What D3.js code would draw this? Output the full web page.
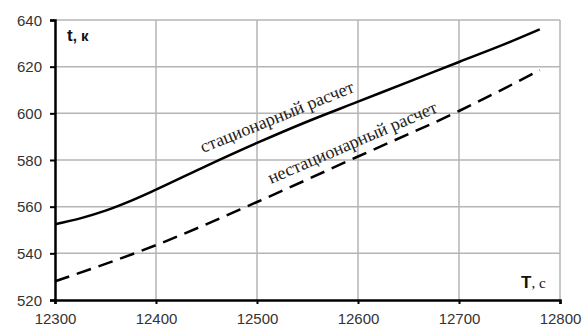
<!DOCTYPE html>
<html>
<head>
<meta charset="utf-8">
<script src="https://cdn.jsdelivr.net/npm/d3@7"></script>
<style>
  body { margin:0; background:#fff; }
  .tick text { font-family: "Liberation Sans", Arial, sans-serif; font-size:15px; fill:#333; }
</style>
</head>
<body>
<svg id="chart" width="586" height="329"></svg>
<script>
// time, s
var timeStat   = [12300, 12325, 12350, 12375, 12400, 12450, 12500, 12550, 12600, 12650, 12700, 12750, 12780];
var tempStat   = [552.5, 555, 558.3, 562.5, 567.3, 577.5, 587.3, 596.5, 605, 613.5, 622, 630.5, 636];
var timeUnst   = [12300, 12400, 12500, 12600, 12700, 12780];
var tempUnst   = [528, 543.5, 562, 581.5, 601, 618.5];
var xTicks     = [12300, 12400, 12500, 12600, 12700, 12800];
var yTicks     = [520, 540, 560, 580, 600, 620, 640];

var svg = d3.select("#chart");
var x = d3.scaleLinear().domain([12300, 12800]).range([55, 560]);
var y = d3.scaleLinear().domain([520, 640]).range([300, 20]);

// grid
svg.append("g").selectAll("line.v").data(xTicks.slice(1)).enter().append("line")
  .attr("x1", d => x(d)).attr("x2", d => x(d)).attr("y1", y(640)).attr("y2", y(520))
  .attr("stroke", "#b5b5b5").attr("stroke-width", 1.5);
svg.append("g").selectAll("line.h").data(yTicks.slice(1)).enter().append("line")
  .attr("x1", x(12300)).attr("x2", x(12800)).attr("y1", d => y(d)).attr("y2", d => y(d))
  .attr("stroke", "#b5b5b5").attr("stroke-width", 1.5);

// axes
var gx = svg.append("g").attr("transform", "translate(0," + y(520) + ")")
  .call(d3.axisBottom(x).tickValues(xTicks).tickSize(4).tickPadding(6).tickFormat(d3.format("d")));
var gy = svg.append("g").attr("transform", "translate(" + x(12300) + ",0)")
  .call(d3.axisLeft(y).tickValues(yTicks).tickSize(5).tickPadding(8));
[gx, gy].forEach(function(g) {
  g.select(".domain").attr("stroke", "#000").attr("stroke-width", 2.5);
  g.selectAll(".tick line").attr("stroke", "#000").attr("stroke-width", 2);
});
gx.selectAll(".tick text").attr("dy", "0.9em");
gy.selectAll(".tick text").attr("dy", "0.35em");

// lines
var line = d3.line().curve(d3.curveMonotoneX);
svg.append("path")
  .attr("d", line(timeStat.map((t, i) => [x(t), y(tempStat[i])])))
  .attr("fill", "none").attr("stroke", "#000").attr("stroke-width", 2.5);
svg.append("path")
  .attr("d", line(timeUnst.map((t, i) => [x(t), y(tempUnst[i])])))
  .attr("fill", "none").attr("stroke", "#000").attr("stroke-width", 2.5)
  .attr("stroke-dasharray", "15,8");

// curve labels
var serif = "Liberation Serif, Times New Roman, serif";
svg.append("text").attr("transform", "translate(203,153) rotate(-22)")
  .attr("font-family", serif).attr("font-size", 18).attr("fill", "#222")
  .text("стационарный расчет");
svg.append("text").attr("transform", "translate(271,184) rotate(-23.3)")
  .attr("font-family", serif).attr("font-size", 18).attr("fill", "#222")
  .text("нестационарный расчет");

// axis titles
var yt = svg.append("text").attr("x", 67).attr("y", 41)
  .attr("font-family", "Liberation Sans, Arial, sans-serif").attr("font-weight", "bold").attr("fill", "#111");
yt.append("tspan").attr("font-size", 17).text("t");
yt.append("tspan").attr("font-size", 15).text(", к");

var xt = svg.append("text").attr("x", 521).attr("y", 288).attr("fill", "#111");
xt.append("tspan").attr("font-family", "Liberation Sans, Arial, sans-serif").attr("font-weight", "bold").attr("font-size", 17).text("T");
xt.append("tspan").attr("font-family", serif).attr("font-size", 15).text(", с");
</script>
</body>
</html>
